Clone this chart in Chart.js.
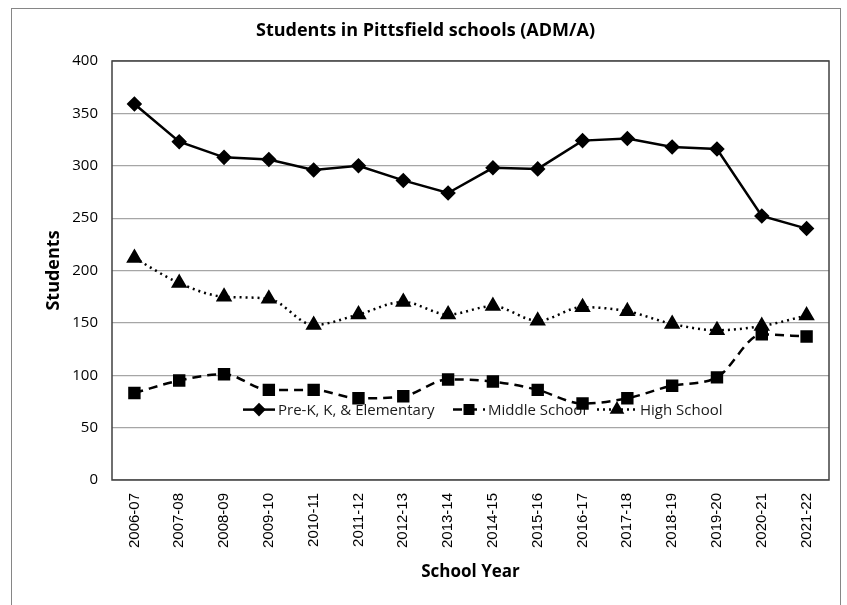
<!DOCTYPE html>
<html>
<head>
<meta charset="utf-8">
<script src="https://cdn.jsdelivr.net/npm/chart.js@4"></script>
<style>
  html, body { margin: 0; padding: 0; background: #fff; }
  #wrap { width: 847px; height: 605px; }
</style>
</head>
<body>
<div id="wrap"><canvas id="enrollChart"></canvas></div>
<script>
const schoolYears = ['2006-07', '2007-08', '2008-09', '2009-10', '2010-11', '2011-12', '2012-13', '2013-14',
    '2014-15', '2015-16', '2016-17', '2017-18', '2018-19', '2019-20', '2020-21', '2021-22'];
const elementary = [359, 323, 308, 306, 296, 300, 286, 274, 298, 297, 324, 326, 318, 316, 252, 240];
const middleSchool = [83, 95, 101, 86, 86, 78, 80, 96, 94, 86, 73, 78, 90, 98, 139, 137];
const highSchool = [212, 188, 175, 173, 148, 158, 170, 158, 166, 152, 165, 161, 149, 143, 147, 157];
const yTicks = [0, 50, 100, 150, 200, 250, 300, 350, 400];

const labelFont = "'Open Sans', 'Liberation Sans', sans-serif";

// outer frame and plot border, drawn like the spreadsheet chart
const framePlugin = {
    id: 'frame',
    beforeDraw(chart) {
        const ctx = chart.ctx;
        ctx.save();
        ctx.fillStyle = '#fff';
        ctx.fillRect(0, 0, chart.width, chart.height);
        ctx.strokeStyle = '#868686';
        ctx.lineWidth = 1;
        ctx.strokeRect(11.5, 8.5, 829, 610);
        ctx.restore();
    },
    afterDatasetsDraw(chart) {
        const a = chart.chartArea;
        const ctx = chart.ctx;
        ctx.save();
        ctx.strokeStyle = '#404040';
        ctx.lineWidth = 1.5;
        ctx.strokeRect(a.left, a.top, a.right - a.left, a.bottom - a.top);
        ctx.restore();
    }
};

// legend sits inside the plot, like the original
const innerLegend = {
    id: 'innerLegend',
    beforeDatasetsDraw(chart) {
        const ctx = chart.ctx;
        const a = chart.chartArea;
        const y = a.top + (a.bottom - a.top) * 0.832;
        const items = [
            { ds: 0, x: 243, w: 32 },
            { ds: 1, x: 453, w: 32 },
            { ds: 2, x: 597, w: 40 }
        ];
        ctx.save();
        ctx.font = '15px ' + labelFont;
        ctx.textBaseline = 'middle';
        items.forEach(it => {
            const ds = chart.data.datasets[it.ds];
            ctx.strokeStyle = '#000';
            ctx.lineWidth = ds.borderWidth;
            ctx.setLineDash(ds.borderDash || []);
            ctx.beginPath();
            ctx.moveTo(it.x, y);
            ctx.lineTo(it.x + it.w, y);
            ctx.stroke();
            ctx.setLineDash([]);
            Chart.helpers.drawPoint(ctx, {
                pointStyle: ds.pointStyle,
                radius: ds.pointRadius - 1,
                rotation: 0,
                borderWidth: 1
            }, it.x + it.w / 2, y);
            ctx.fillStyle = '#000';
            ctx.fill();
            ctx.fillStyle = '#1a1a1a';
            ctx.fillText(ds.label, it.x + it.w + 3, y + 1);
        });
        ctx.restore();
    }
};

const ctx = document.getElementById('enrollChart').getContext('2d');
new Chart(ctx, {
    type: 'line',
    data: {
        labels: schoolYears,
        datasets: [{
            label: 'Pre-K, K, & Elementary',
            data: elementary,
            borderColor: '#000',
            backgroundColor: '#000',
            borderWidth: 2.5,
            pointStyle: 'rectRot',
            pointRadius: 6,
            tension: 0
        }, {
            label: 'Middle School',
            data: middleSchool,
            borderColor: '#000',
            backgroundColor: '#000',
            borderWidth: 2.5,
            borderDash: [9, 6],
            pointStyle: 'rect',
            pointRadius: 7,
            cubicInterpolationMode: 'monotone',
            tension: 0.3
        }, {
            label: 'High School',
            data: highSchool,
            borderColor: '#000',
            backgroundColor: '#000',
            borderWidth: 2.5,
            borderDash: [2, 4],
            pointStyle: 'triangle',
            pointRadius: 7,
            tension: 0.3,
            cubicInterpolationMode: 'monotone'
        }]
    },
    options: {
        responsive: true,
        maintainAspectRatio: false,
        animation: false,
        devicePixelRatio: 1,
        layout: {
            padding: { left: 22, right: 18, top: 10, bottom: 14 }
        },
        plugins: {
            legend: { display: false },
            tooltip: { enabled: false },
            title: {
                display: true,
                text: 'Students in Pittsfield schools (ADM/A)',
                color: '#000',
                font: { family: labelFont, size: 18, weight: 'bold' },
                padding: { top: 10, bottom: 19.4 }
            }
        },
        scales: {
            y: {
                min: 0,
                max: 400,
                afterBuildTicks(scale) {
                    scale.ticks = yTicks.map(v => ({ value: v }));
                },
                afterFit(scale) {
                    scale.width = 90;
                },
                grid: {
                    color: '#a6a6a6',
                    lineWidth: 1.2,
                    drawTicks: false
                },
                border: { display: false },
                ticks: {
                    color: '#000',
                    padding: 14,
                    font: { family: labelFont, size: 15 }
                },
                title: {
                    display: true,
                    text: 'Students',
                    color: '#000',
                    padding: { top: 21, bottom: 0 },
                    font: { family: labelFont, size: 18, weight: 'bold' }
                }
            },
            x: {
                offset: true,
                afterFit(scale) {
                    scale.height = 111;
                },
                grid: { display: false, drawTicks: false },
                border: { display: false },
                ticks: {
                    color: '#000',
                    minRotation: 90,
                    maxRotation: 90,
                    padding: 13,
                    font: { family: "'Liberation Sans', Arial, sans-serif", size: 15 }
                },
                title: {
                    display: true,
                    text: 'School Year',
                    color: '#000',
                    padding: { top: 12, bottom: 9 },
                    font: { family: labelFont, size: 17, weight: 'bold' }
                }
            }
        }
    },
    plugins: [framePlugin, innerLegend]
});
</script>
</body>
</html>
